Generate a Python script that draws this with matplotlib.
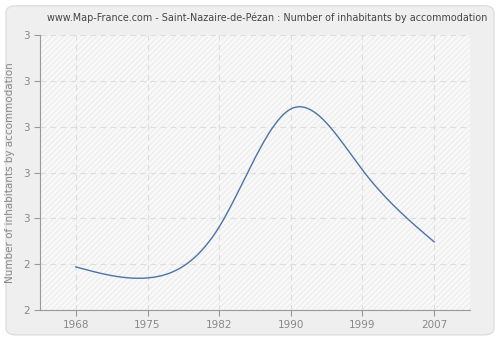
import numpy as np
import matplotlib
matplotlib.use("Agg")
import matplotlib.pyplot as plt
from matplotlib.patches import FancyBboxPatch

# Data
years = ["1968", "1975", "1982", "1990", "1999", "2007"]
inhabitants = [2.391, 2.355, 2.522, 2.908, 2.708, 2.473]
y_ticks = [2.25, 2.40, 2.55, 2.70, 2.85, 3.00, 3.15]


def natural_spline(x, y, n=400):
    """Natural cubic spline through (x, y), evaluated on a dense grid."""
    x = np.asarray(x, float)
    y = np.asarray(y, float)
    k = len(x)
    h = np.diff(x)
    A = np.zeros((k, k))
    b = np.zeros(k)
    A[0, 0] = A[-1, -1] = 1.0
    for i in range(1, k - 1):
        A[i, i - 1] = h[i - 1]
        A[i, i] = 2 * (h[i - 1] + h[i])
        A[i, i + 1] = h[i]
        b[i] = 6 * ((y[i + 1] - y[i]) / h[i] - (y[i] - y[i - 1]) / h[i - 1])
    m = np.linalg.solve(A, b)
    xs = np.linspace(x[0], x[-1], n)
    idx = np.clip(np.searchsorted(x, xs) - 1, 0, k - 2)
    t0 = xs - x[idx]
    t1 = x[idx + 1] - xs
    hi = h[idx]
    ys = (m[idx] * t1**3 / (6 * hi) + m[idx + 1] * t0**3 / (6 * hi)
          + (y[idx] / hi - m[idx] * hi / 6) * t1
          + (y[idx + 1] / hi - m[idx + 1] * hi / 6) * t0)
    return xs, ys


fig = plt.figure(figsize=(5.0, 3.4), dpi=100)
fig.patch.set_facecolor("white")
panel = FancyBboxPatch((0.012, 0.015), 0.976, 0.968, boxstyle="round,pad=0,rounding_size=0.02",
                       transform=fig.transFigure, facecolor="#efefef", edgecolor="#dedede",
                       linewidth=1.0, zorder=-10)
fig.patches.append(panel)

ax = fig.add_axes([0.08, 0.0882, 0.86, 0.8088])
ax.set_facecolor("#f9f9f9")
ax.add_patch(plt.Rectangle((0, 0), 1, 1, transform=ax.transAxes, facecolor="none",
                           edgecolor="#eeeeee", hatch="//////", linewidth=0, zorder=0))

pos = np.arange(len(years))
xs, ys = natural_spline(pos, inhabitants)
ax.plot(xs, ys, color="#4a74a8", linewidth=1.0, zorder=3)

ax.set_xlim(-0.5, len(years) - 0.5)
ax.set_ylim(y_ticks[0], y_ticks[-1])
ax.set_xticks(pos)
ax.set_xticklabels(years)
ax.set_yticks(y_ticks)
ax.set_yticklabels(["%.0f" % v for v in y_ticks])

ax.grid(True, color="#dddddd", linestyle=(0, (5, 4)), linewidth=0.8, zorder=1)
ax.set_axisbelow(True)
for side in ["top", "right"]:
    ax.spines[side].set_visible(False)
for side in ["left", "bottom"]:
    ax.spines[side].set_color("#999999")
ax.tick_params(colors="#999999", labelcolor="#888888", labelsize=7.5, length=4, width=0.8)

ax.set_ylabel("Number of inhabitants by accommodation", color="#888888", fontsize=7.5, labelpad=6)
fig.text(0.534, 0.948, "www.Map-France.com - Saint-Nazaire-de-Pézan : Number of inhabitants by accommodation",
         ha="center", va="center", fontsize=6.95, color="#444444")

fig.savefig("out.png", dpi=100, facecolor=fig.get_facecolor())
